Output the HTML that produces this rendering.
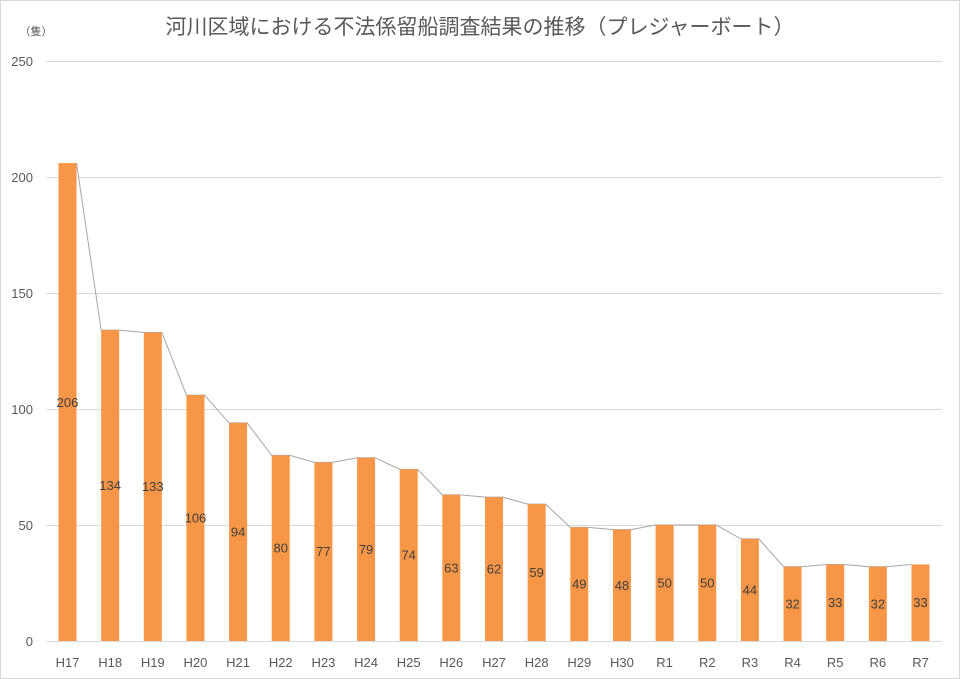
<!DOCTYPE html>
<html><head><meta charset="utf-8"><style>
html,body{margin:0;padding:0;background:#fff}
svg{display:block}
text{font-family:"Liberation Sans","Noto Sans CJK JP",sans-serif}
</style></head><body>
<svg width="960" height="679" viewBox="0 0 960 679" xmlns="http://www.w3.org/2000/svg">
<rect x="0.5" y="0.5" width="959" height="678" fill="#fff" stroke="#d9d9d9"/>
<text x="480" y="34" text-anchor="middle" font-size="21" fill="#595959">河川区域における不法係留船調査結果の推移（プレジャーボート）</text>
<text x="36" y="35" text-anchor="middle" font-size="11" fill="#595959">（隻）</text>
<g stroke="#d9d9d9" stroke-width="1">
<line x1="46" y1="61.5" x2="942" y2="61.5"/>
<line x1="46" y1="177.5" x2="942" y2="177.5"/>
<line x1="46" y1="293.5" x2="942" y2="293.5"/>
<line x1="46" y1="409.5" x2="942" y2="409.5"/>
<line x1="46" y1="525.5" x2="942" y2="525.5"/>
<line x1="46" y1="641.5" x2="942" y2="641.5"/>
</g>
<g font-size="13" fill="#595959" text-anchor="end">
<text x="33" y="66">250</text><text x="33" y="182">200</text><text x="33" y="298">150</text>
<text x="33" y="414">100</text><text x="33" y="530">50</text><text x="33" y="646">0</text>
</g>
<polyline fill="none" stroke="#a6a6a6" stroke-width="1" points="76.5,163.08 101.15,330.12 119.15,330.12 143.8,332.44 161.8,332.44 186.45,395.08 204.45,395.08 229.1,422.92 247.1,422.92 271.75,455.4 289.75,455.4 314.4,462.36 332.4,462.36 357.05,457.72 375.05,457.72 399.7,469.32 417.7,469.32 442.35,494.84 460.35,494.84 485,497.16 503,497.16 527.65,504.12 545.65,504.12 570.3,527.32 588.3,527.32 612.95,529.64 630.95,529.64 655.6,525 673.6,525 698.25,525 716.25,525 740.9,538.92 758.9,538.92 783.55,566.76 801.55,566.76 826.2,564.44 844.2,564.44 868.85,566.76 886.85,566.76 911.5,564.44"/>
<g fill="#f79646">
<rect x="58.5" y="163.08" width="18" height="477.92"/>
<rect x="101.15" y="330.12" width="18" height="310.88"/>
<rect x="143.8" y="332.44" width="18" height="308.56"/>
<rect x="186.45" y="395.08" width="18" height="245.92"/>
<rect x="229.1" y="422.92" width="18" height="218.08"/>
<rect x="271.75" y="455.4" width="18" height="185.6"/>
<rect x="314.4" y="462.36" width="18" height="178.64"/>
<rect x="357.05" y="457.72" width="18" height="183.28"/>
<rect x="399.7" y="469.32" width="18" height="171.68"/>
<rect x="442.35" y="494.84" width="18" height="146.16"/>
<rect x="485" y="497.16" width="18" height="143.84"/>
<rect x="527.65" y="504.12" width="18" height="136.88"/>
<rect x="570.3" y="527.32" width="18" height="113.68"/>
<rect x="612.95" y="529.64" width="18" height="111.36"/>
<rect x="655.6" y="525" width="18" height="116"/>
<rect x="698.25" y="525" width="18" height="116"/>
<rect x="740.9" y="538.92" width="18" height="102.08"/>
<rect x="783.55" y="566.76" width="18" height="74.24"/>
<rect x="826.2" y="564.44" width="18" height="76.56"/>
<rect x="868.85" y="566.76" width="18" height="74.24"/>
<rect x="911.5" y="564.44" width="18" height="76.56"/>
</g>
<g font-size="13" fill="#404040" text-anchor="middle">
<text x="67.5" y="407">206</text>
<text x="110.15" y="490">134</text>
<text x="152.8" y="491">133</text>
<text x="195.45" y="522.5">106</text>
<text x="238.1" y="536.5">94</text>
<text x="280.75" y="552.5">80</text>
<text x="323.4" y="556">77</text>
<text x="366.05" y="554">79</text>
<text x="408.7" y="559.5">74</text>
<text x="451.35" y="572.5">63</text>
<text x="494" y="573.5">62</text>
<text x="536.65" y="577">59</text>
<text x="579.3" y="588.5">49</text>
<text x="621.95" y="590">48</text>
<text x="664.6" y="587.5">50</text>
<text x="707.25" y="587.5">50</text>
<text x="749.9" y="594.5">44</text>
<text x="792.55" y="608.5">32</text>
<text x="835.2" y="607">33</text>
<text x="877.85" y="608.5">32</text>
<text x="920.5" y="607">33</text>
</g>
<g font-size="13" fill="#595959" text-anchor="middle">
<text x="67.5" y="667">H17</text><text x="110.15" y="667">H18</text><text x="152.8" y="667">H19</text>
<text x="195.45" y="667">H20</text><text x="238.1" y="667">H21</text><text x="280.75" y="667">H22</text>
<text x="323.4" y="667">H23</text><text x="366.05" y="667">H24</text><text x="408.7" y="667">H25</text>
<text x="451.35" y="667">H26</text><text x="494" y="667">H27</text><text x="536.65" y="667">H28</text>
<text x="579.3" y="667">H29</text><text x="621.95" y="667">H30</text><text x="664.6" y="667">R1</text>
<text x="707.25" y="667">R2</text><text x="749.9" y="667">R3</text><text x="792.55" y="667">R4</text>
<text x="835.2" y="667">R5</text><text x="877.85" y="667">R6</text><text x="920.5" y="667">R7</text>
</g>
</svg>
</body></html>
